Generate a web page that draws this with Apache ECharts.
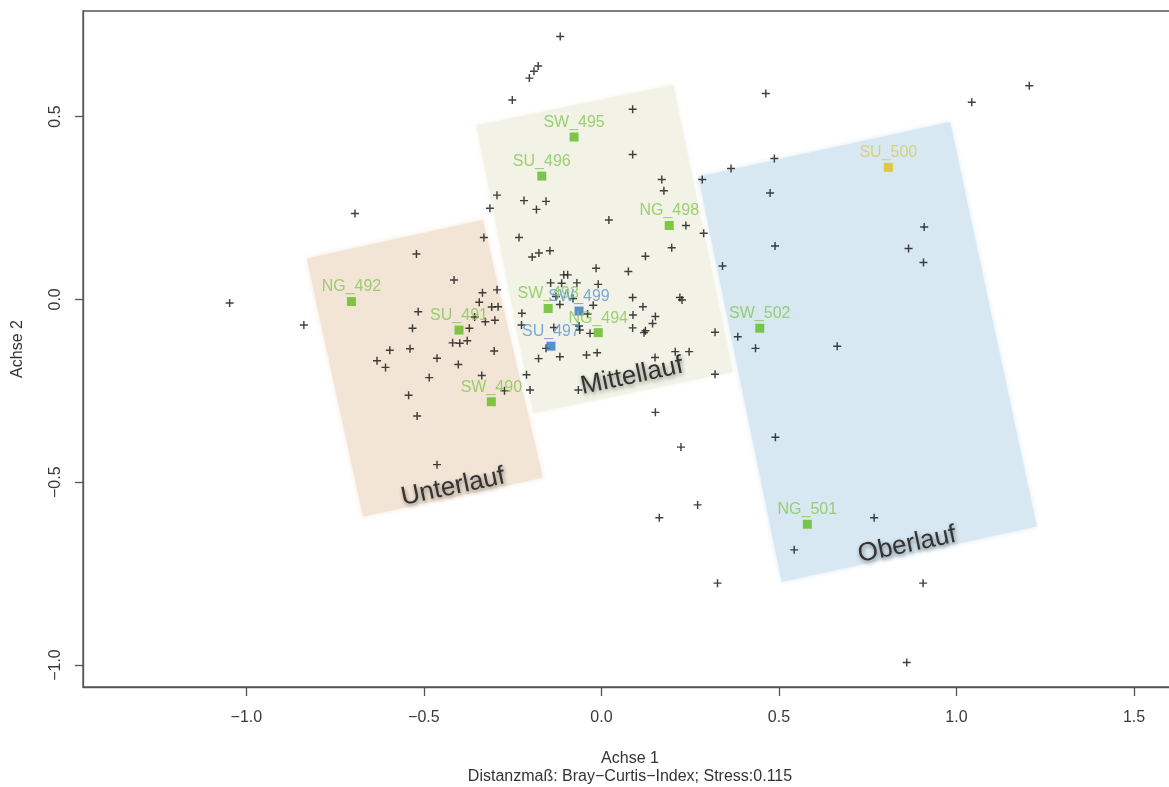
<!DOCTYPE html>
<html>
<head>
<meta charset="utf-8">
<script src="https://cdn.jsdelivr.net/npm/echarts@6/dist/echarts.min.js"></script>
<style>
  html, body { margin: 0; padding: 0; background: #fff; }
  #chart { width: 1169px; height: 787px; }
</style>
</head>
<body>
<div id="chart"></div>
<script>
// species scores (black crosses)
const speciesX = [-0.694, -0.116, -0.178, -0.190, -0.203, -0.251, 0.088, 0.463, 0.088, 0.365, 0.487, 0.170, 0.176, 0.284, 0.475,
  -0.294, -0.218, -0.156, -0.314, -0.183, 0.021, 0.238, 0.288, 0.198, 0.489, -0.331, -0.232, -0.521, -0.195, -0.176, -0.145, 0.124,
  1.205, 1.043, 0.909, 0.865, 0.907, 0.664, 0.490, 0.768, 0.543, 0.906, 0.860, 0.271, 0.163, 0.327,
  -1.047, -0.838, -0.596, -0.632, -0.608,
  0.341, -0.415, -0.106, -0.095, -0.015, 0.076, -0.335, -0.294, -0.143, -0.112, -0.069, -0.009, -0.344, -0.309, -0.291,
  0.088, 0.117, 0.221, 0.227, -0.516, -0.357, -0.327, -0.300, -0.224, -0.117, -0.023, -0.039, 0.089, 0.152,
  -0.532, -0.372, -0.225, -0.134, -0.063, -0.061, -0.032, 0.088, 0.120, 0.124, 0.144, 0.320, 0.384, 0.434,
  -0.539, -0.419, -0.399, -0.378, -0.302, -0.156, -0.177, -0.117, -0.042, -0.012, 0.151, 0.208, 0.247,
  -0.463, -0.403, -0.485, -0.337, -0.273, -0.211, -0.201, -0.065, 0.320, -0.543, -0.519, 0.152, 0.224, -0.463,
  -0.128, -0.080];
const speciesY = [0.235, 0.719, 0.638, 0.624, 0.605, 0.545, 0.520, 0.563, 0.396, 0.358, 0.385, 0.328, 0.297, 0.328, 0.291,
  0.285, 0.270, 0.268, 0.249, 0.246, 0.217, 0.202, 0.181, 0.141, 0.146, 0.169, 0.169, 0.124, 0.116, 0.127, 0.133, 0.118,
  0.584, 0.539, 0.198, 0.139, 0.101, -0.128, -0.377, -0.597, -0.685, -0.776, -0.993, -0.562, -0.597, -0.776,
  -0.010, -0.070, -0.139, -0.168, -0.186,
  0.091, 0.053, 0.067, 0.067, 0.085, 0.076, 0.018, 0.026, 0.045, 0.044, 0.045, 0.041, -0.008, -0.021, -0.020,
  0.005, -0.020, 0.005, -0.002, -0.034, -0.048, -0.061, -0.057, -0.038, -0.014, -0.016, -0.040, -0.043, -0.047,
  -0.079, -0.079, -0.070, -0.077, -0.073, -0.084, -0.093, -0.078, -0.091, -0.086, -0.066, -0.090, -0.102, -0.134,
  -0.135, -0.119, -0.120, -0.113, -0.141, -0.134, -0.162, -0.157, -0.152, -0.146, -0.159, -0.143, -0.143,
  -0.161, -0.178, -0.214, -0.208, -0.250, -0.206, -0.248, -0.248, -0.205, -0.262, -0.319, -0.309, -0.404, -0.452,
  0.008, 0.002];

// site scores
const siteNames = ['NG_492', 'SU_491', 'SW_490', 'SW_495', 'SU_496', 'NG_498', 'SW_493', 'SW_499', 'SU_497', 'NG_494', 'SW_502', 'SU_500', 'NG_501'];
const siteX = [-0.704, -0.401, -0.310, -0.077, -0.168, 0.191, -0.150, -0.063, -0.142, -0.009, 0.446, 0.808, 0.580];
const siteY = [-0.006, -0.084, -0.280, 0.444, 0.337, 0.202, -0.025, -0.032, -0.128, -0.091, -0.079, 0.361, -0.615];
const siteGroup = ['g', 'g', 'g', 'g', 'g', 'g', 'g', 'b', 'b', 'g', 'g', 'y', 'g'];

// river sections (rotated boxes, corners in axis units)
const regionNames = ['Unterlauf', 'Mittellauf', 'Oberlauf'];
const regionCornersX = [[-0.830, -0.334, -0.165, -0.671], [-0.352, 0.202, 0.370, -0.192], [0.273, 0.982, 1.226, 0.508]];
const regionCornersY = [[0.112, 0.217, -0.488, -0.594], [0.476, 0.586, -0.198, -0.311], [0.335, 0.485, -0.621, -0.772]];
const regionLabelX = [-0.418, 0.086, 0.861];
const regionLabelY = [-0.513, -0.210, -0.671];

const xTicks = [-1.0, -0.5, 0.0, 0.5, 1.0, 1.5];
const yTicks = [-1.0, -0.5, 0.0, 0.5];

const regionFill = ['#f3e5d6', '#f2f3e6', '#d8e8f2'];
const markerColor = { g: '#5fbb1f', b: '#2f78c4', y: '#dcc01e' };
const textColor = { g: '#86c655', b: '#5b93d3', y: '#d9c95e' };
const FONT = '"Liberation Sans", Arial, sans-serif';

const fmt = v => (v < 0 ? '\u2212' : '') + Math.abs(v).toFixed(1);
const cross = 'path://M4.1,0h1.8v10h-1.8z M0,4.1h10v1.8h-10z';

const chart = echarts.init(document.getElementById('chart'));

const option = {
  animation: false,
  grid: {
    left: 83, top: 11, width: 1094, height: 676,
    outerBoundsMode: 'none', containLabel: false,
    show: true, borderColor: '#555', borderWidth: 1.3, backgroundColor: 'transparent'
  },
  xAxis: {
    type: 'value', min: -1.46, max: 1.621,
    splitLine: { show: false },
    axisLine: { onZero: false, lineStyle: { color: '#555', width: 1.3 } },
    axisTick: { length: 9, customValues: xTicks, lineStyle: { color: '#555', width: 1.3 } },
    axisLabel: { customValues: xTicks, formatter: fmt, margin: 23, color: '#3a3a3a', fontSize: 16, fontFamily: FONT },
    name: 'Achse 1\nDistanzmaß: Bray\u2212Curtis\u2212Index; Stress:0.115',
    nameLocation: 'middle', nameGap: 63,
    nameTextStyle: { color: '#333', fontSize: 16, fontFamily: FONT, lineHeight: 18 }
  },
  yAxis: {
    type: 'value', min: -1.06, max: 0.7885,
    splitLine: { show: false },
    axisLine: { onZero: false, lineStyle: { color: '#555', width: 1.3 } },
    axisTick: { length: 8, customValues: yTicks, lineStyle: { color: '#555', width: 1.3 } },
    axisLabel: { customValues: yTicks, formatter: fmt, rotate: 90, margin: 19, color: '#3a3a3a', fontSize: 16, fontFamily: FONT },
    name: 'Achse 2', nameLocation: 'middle', nameGap: 57, nameRotate: 90,
    nameTextStyle: { color: '#333', fontSize: 16, fontFamily: FONT }
  },
  series: [
    {
      type: 'custom', z: 1, silent: true,
      data: regionNames.map((n, i) => [i]),
      renderItem: (params, api) => {
        const i = api.value(0);
        const pts = regionCornersX[i].map((x, k) => api.coord([x, regionCornersY[i][k]]));
        const c = api.coord([regionLabelX[i], regionLabelY[i]]);
        return {
          type: 'group',
          children: [
            {
              type: 'polygon',
              shape: { points: pts },
              style: { fill: regionFill[i], shadowBlur: 5, shadowColor: regionFill[i] }
            },
            {
              type: 'text', x: c[0], y: c[1], rotation: 12 * Math.PI / 180, z2: 10,
              style: {
                text: regionNames[i], align: 'center', verticalAlign: 'middle',
                fontSize: 26, fontFamily: FONT, fill: '#333',
                textShadowColor: 'rgba(0,0,0,0.45)', textShadowBlur: 4, textShadowOffsetX: 1, textShadowOffsetY: 2
              }
            }
          ]
        };
      }
    },
    {
      type: 'scatter', z: 3, silent: true,
      symbol: cross, symbolSize: 8,
      itemStyle: { color: '#111' },
      data: speciesX.map((x, i) => [x, speciesY[i]])
    },
    {
      type: 'scatter', z: 4, silent: true,
      symbol: 'rect', symbolSize: 9,
      data: siteNames.map((n, i) => ({
        value: [siteX[i], siteY[i]], name: n,
        itemStyle: { color: markerColor[siteGroup[i]] },
        label: { color: textColor[siteGroup[i]] }
      })),
      label: { show: true, position: 'top', distance: 2, formatter: '{b}', fontSize: 16, fontFamily: FONT }
    }
  ]
};

chart.setOption(option);
</script>
</body>
</html>
